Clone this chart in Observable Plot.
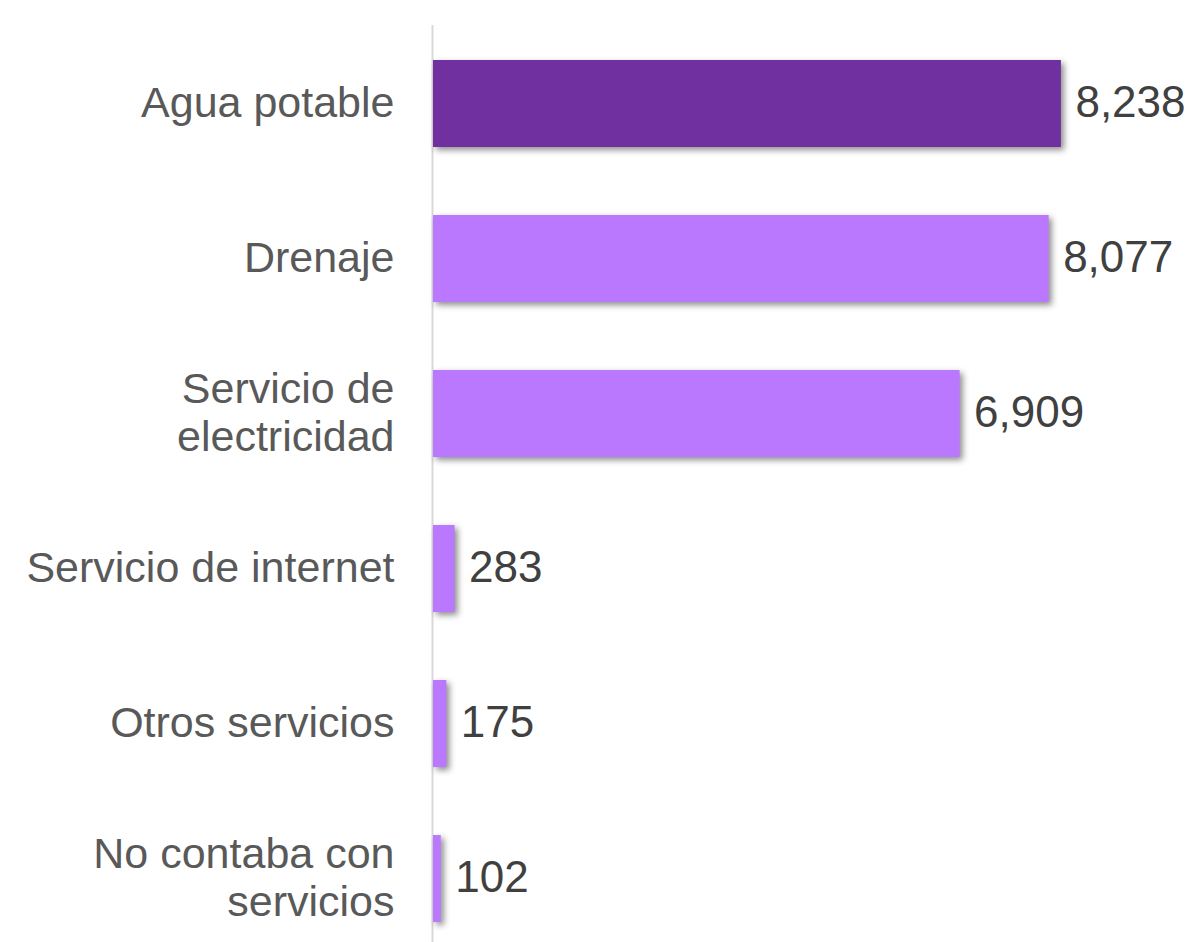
<!DOCTYPE html>
<html>
<head>
<meta charset="utf-8">
<script src="https://cdn.jsdelivr.net/npm/d3@7"></script>
<script src="https://cdn.jsdelivr.net/npm/@observablehq/plot@0.6"></script>
<style>
  html, body { margin: 0; padding: 0; background: #fff; }
  #chart svg { display: block; overflow: visible; }
  #chart g[aria-label="bar"] rect { filter: drop-shadow(3px 3px 3px rgba(0,0,0,0.45)); }
</style>
</head>
<body>
<div id="chart"></div>
<script>
const categories = ["Agua potable", "Drenaje", "Servicio de\nelectricidad", "Servicio de internet", "Otros servicios", "No contaba con\nservicios"];
const values = [8238, 8077, 6909, 283, 175, 102];
const highlight = [true, false, false, false, false, false];

const data = categories.map((c, i) => ({name: c, value: values[i], hi: highlight[i]}));
const fmt = d3.format(",");

const chart = Plot.plot({
  width: 1193,
  height: 942,
  marginLeft: 433,
  marginRight: 74,
  marginTop: 25,
  marginBottom: 0,
  style: {fontFamily: "Liberation Sans, Arial, sans-serif", background: "#fff"},
  x: {domain: [0, 9000], axis: null},
  y: {domain: categories, range: [24, 958], paddingInner: 0.44, paddingOuter: 0.22, axis: null},
  marks: [
    Plot.ruleX([0], {stroke: "#D9D9D9", strokeWidth: 2, dx: -1}),
    Plot.barX(data, {x: "value", y: "name", fill: d => d.hi ? "#7030A0" : "#BA78FF"}),
    Plot.text(data, {x: 0, y: "name", text: "name", textAnchor: "end", dx: -39, dy: -2, fontSize: 43, fill: "#595959", lineHeight: 1.12}),
    Plot.text(data, {x: "value", y: "name", text: d => fmt(d.value), textAnchor: "start", dx: 14, dy: -1, fontSize: 44, fill: "#404040"})
  ]
});
document.getElementById("chart").append(chart);
</script>
</body>
</html>
